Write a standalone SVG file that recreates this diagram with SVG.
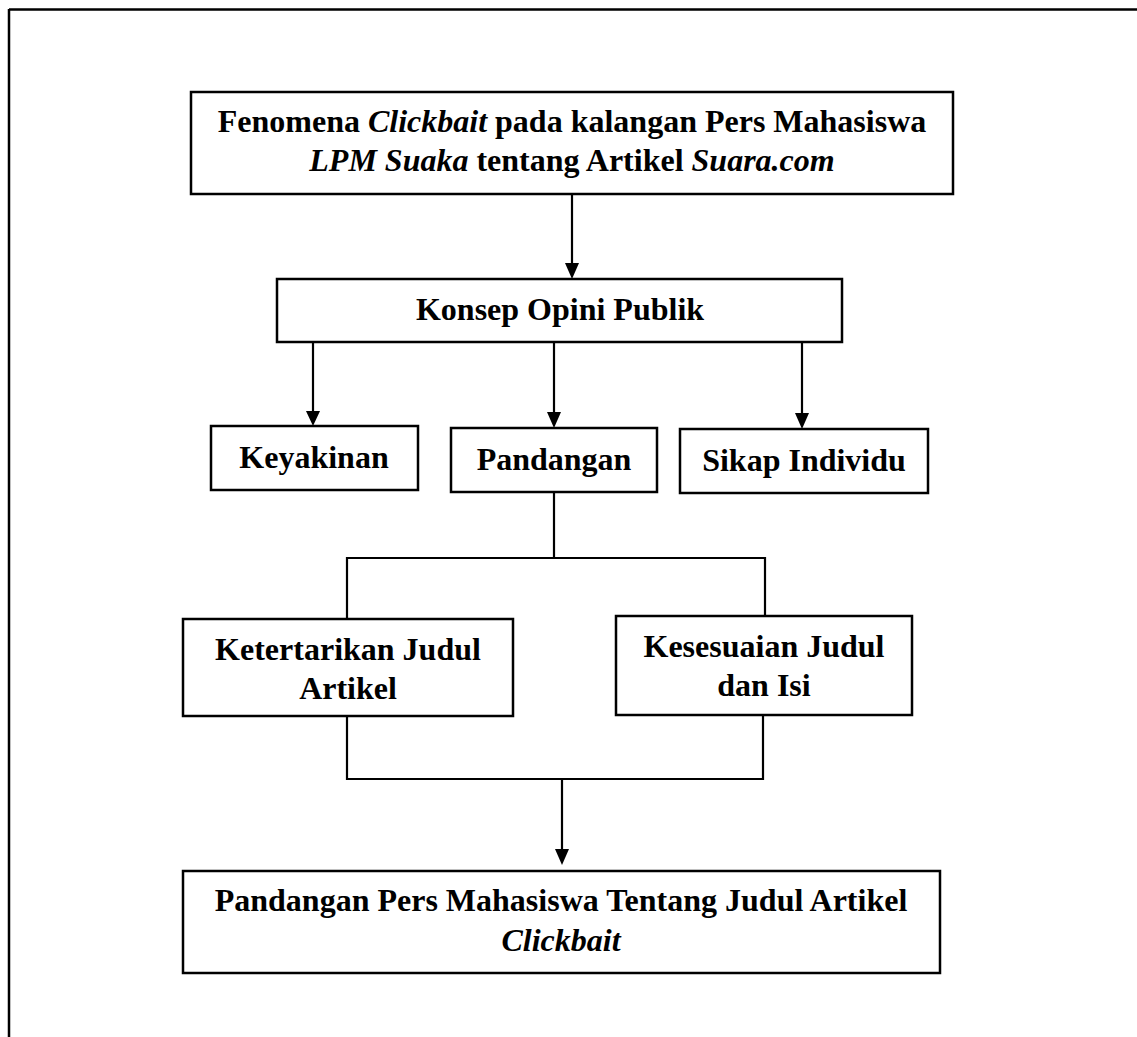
<svg xmlns="http://www.w3.org/2000/svg" width="1137" height="1037" viewBox="0 0 1137 1037">
<style>
.box{fill:#fff;stroke:#000;stroke-width:2.5}
.ln{fill:none;stroke:#000;stroke-width:2.2}
.t{font-family:"Liberation Serif","Times New Roman",serif;font-weight:bold;font-size:32px;fill:#000;text-anchor:middle}
.i{font-style:italic}
</style>
<g id="frame">
<path d="M9,9.5 H1137 M9,9 V1037" fill="none" stroke="#000" stroke-width="2.5"/>
</g>
<g id="connectors">
<path class="ln" d="M572,194 V264"/>
<path d="M565,263 L579,263 L572,279 Z"/>
<path class="ln" d="M313,342 V412"/>
<path d="M306,411 L320,411 L313,426 Z"/>
<path class="ln" d="M554,342 V413"/>
<path d="M547,412 L561,412 L554,428 Z"/>
<path class="ln" d="M802,342 V414"/>
<path d="M795,413 L809,413 L802,429 Z"/>
<path class="ln" d="M554,492 V558 M347,619 V558 H765 V616"/>
<path class="ln" d="M347,716 V779 H763 V715 M562,779 V850"/>
<path d="M555,849 L569,849 L562,865 Z"/>
</g>
<g id="n1">
<rect class="box" x="191" y="92" width="762" height="102"/>
<text class="t" x="572" y="132">Fenomena <tspan class="i">Clickbait</tspan> pada kalangan Pers Mahasiswa</text>
<text class="t" x="572" y="171"><tspan class="i">LPM Suaka</tspan> tentang Artikel <tspan class="i">Suara.com</tspan></text>
</g>
<g id="n2">
<rect class="box" x="277" y="279" width="565" height="63"/>
<text class="t" x="560" y="320">Konsep Opini Publik</text>
</g>
<g id="n3">
<rect class="box" x="211" y="426" width="207" height="64"/>
<text class="t" x="314" y="468">Keyakinan</text>
</g>
<g id="n4">
<rect class="box" x="451" y="428" width="206" height="64"/>
<text class="t" x="554" y="470">Pandangan</text>
</g>
<g id="n5">
<rect class="box" x="680" y="429" width="248" height="64"/>
<text class="t" x="804" y="471">Sikap Individu</text>
</g>
<g id="n6">
<rect class="box" x="183" y="619" width="330" height="97"/>
<text class="t" x="348" y="660">Ketertarikan Judul</text>
<text class="t" x="348" y="699">Artikel</text>
</g>
<g id="n7">
<rect class="box" x="616" y="616" width="296" height="99"/>
<text class="t" x="764" y="657">Kesesuaian Judul</text>
<text class="t" x="764" y="696">dan Isi</text>
</g>
<g id="n8">
<rect class="box" x="183" y="871" width="757" height="102"/>
<text class="t" x="561" y="911">Pandangan Pers Mahasiswa Tentang Judul Artikel</text>
<text class="t i" x="561" y="951">Clickbait</text>
</g>
</svg>
